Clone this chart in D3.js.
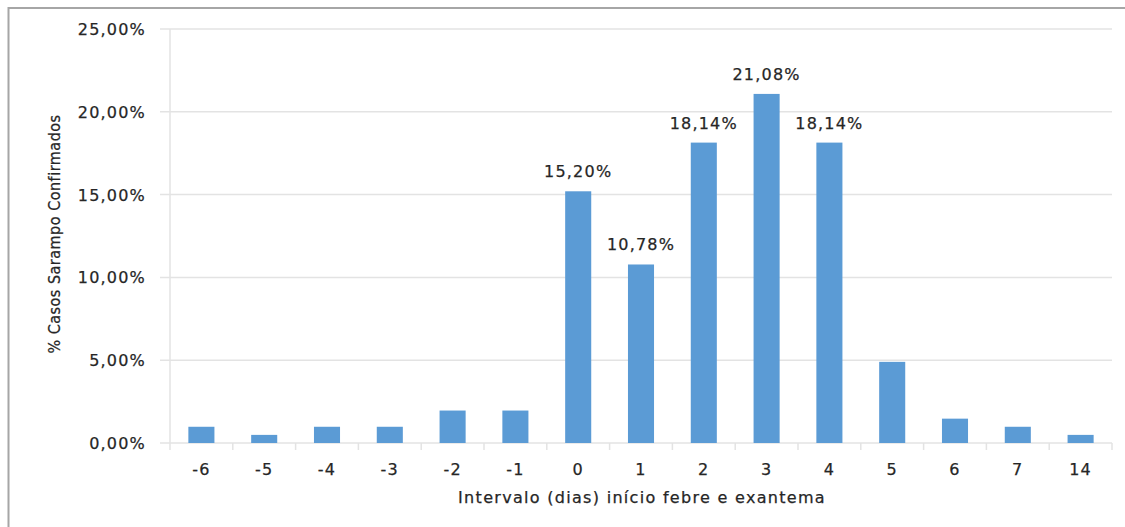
<!DOCTYPE html>
<html><head><meta charset="utf-8">
<script src="https://cdn.jsdelivr.net/npm/d3@7"></script>
<style>
html,body{margin:0;padding:0;background:#fff;}
svg{display:block;}
</style></head>
<body>
<script>
const categories = ["-6","-5","-4","-3","-2","-1","0","1","2","3","4","5","6","7","14"];
const values = [0.98,0.49,0.98,0.98,1.96,1.96,15.20,10.78,18.14,21.08,18.14,4.90,1.47,0.98,0.49];
const labeled = ["0","1","2","3","4"];
const yTicks = [0,5,10,15,20,25];
const xTitle = "Intervalo (dias) início febre e exantema";
const yTitle = "% Casos Sarampo Confirmados";

const W = 1125, H = 527;
const svg = d3.select("body").append("svg").attr("width", W).attr("height", H);

// outer frame
svg.append("path").attr("d", "M8.5,540 L8.5,8 L1140,8")
  .attr("fill","none").attr("stroke","#a6a6a6").attr("stroke-width",2);

const pLeft = 170, pRight = 1112, pTop = 29, pBottom = 443;
const x = d3.scaleBand().domain(categories).range([pLeft, pRight]).paddingInner(0.585).paddingOuter(0.2925);
const xb = d3.scaleBand().domain(categories).range([pLeft, pRight]);
const y = d3.scaleLinear().domain([0,25]).range([pBottom, pTop]);

const fmt = v => d3.format(".2f")(v).replace(".", ",") + "%";
const txtColor = "#262626";

// gridlines
svg.append("g").selectAll("line").data(yTicks).join("line")
  .attr("x1", pLeft-10).attr("x2", pRight)
  .attr("y1", d => y(d)).attr("y2", d => y(d))
  .attr("stroke","#e3e3e3").attr("stroke-width",1.5);
// y axis line
svg.append("line").attr("x1",pLeft).attr("x2",pLeft).attr("y1",pTop).attr("y2",pBottom)
  .attr("stroke","#e3e3e3").attr("stroke-width",1.5);

// x ticks at category boundaries
const bounds = categories.map(c => xb(c)).concat([pRight]);
svg.append("g").selectAll("line").data(bounds).join("line")
  .attr("x1", d => d).attr("x2", d => d)
  .attr("y1", pBottom).attr("y2", pBottom+7)
  .attr("stroke","#e3e3e3").attr("stroke-width",1.5);

function styleText(sel, size, ls) {
  sel.attr("font-family","DejaVu Sans").attr("font-size",size).attr("letter-spacing",ls)
    .attr("fill",txtColor).attr("stroke",txtColor).attr("stroke-width",0.25);
}

// y tick labels
svg.append("g").selectAll("text").data(yTicks).join("text")
  .attr("x", 146).attr("y", d => y(d)+6)
  .attr("text-anchor","end")
  .call(styleText, 16, 1.2)
  .text(d => fmt(d));

// bars
svg.append("g").selectAll("rect").data(values).join("rect")
  .attr("x", (d,i) => x(categories[i]))
  .attr("width", x.bandwidth())
  .attr("y", d => y(d)).attr("height", d => pBottom - y(d))
  .attr("fill","#5b9bd5");

// data labels
svg.append("g").selectAll("text").data(values.map((v,i)=>({v, c:categories[i]})).filter(d => labeled.includes(d.c))).join("text")
  .attr("x", d => x(d.c) + x.bandwidth()/2)
  .attr("y", d => y(d.v) - 14)
  .attr("text-anchor","middle")
  .call(styleText, 16, 1.2)
  .text(d => fmt(d.v));

// x tick labels
svg.append("g").selectAll("text").data(categories).join("text")
  .attr("x", d => x(d) + x.bandwidth()/2)
  .attr("y", 475)
  .attr("text-anchor","middle")
  .call(styleText, 16, 1.2)
  .text(d => d);

// axis titles
svg.append("text").attr("x", (pLeft+pRight)/2 + 1).attr("y", 503)
  .attr("text-anchor","middle")
  .call(styleText, 16, 1.3)
  .text(xTitle);

svg.append("text").attr("transform", `translate(60,${(pTop+pBottom)/2 - 2}) rotate(-90)`)
  .attr("text-anchor","middle")
  .call(styleText, 16, 0.5)
  .attr("font-family","DejaVu Sans Condensed, DejaVu Sans").attr("font-stretch","condensed")
  .text(yTitle);
</script>
</body></html>
